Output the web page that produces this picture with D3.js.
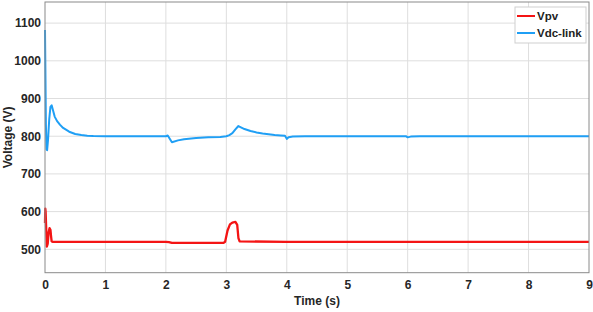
<!DOCTYPE html>
<html><head><meta charset="utf-8">
<script src="https://cdn.jsdelivr.net/npm/d3@7"></script>
<style>
body{margin:0;background:#fff;}
svg{display:block;font-family:"Liberation Sans",Arial,sans-serif;}
</style></head>
<body><svg id="c" width="593" height="312"></svg>
<script>
const xTicks = [0,1,2,3,4,5,6,7,8,9];
const yTicks = [500,600,700,800,900,1000,1100];
const seriesNames = ["Vpv","Vdc-link"];
const vpvT = [0,0.005,0.01,0.02,0.03,0.045,0.06,0.075,0.09,0.1,0.11,0.13,1.0,2.0,2.05,2.1,2.5,2.95,2.98,3.02,3.06,3.1,3.15,3.18,3.2,3.22,4,5,6,7,8,9];
const vpvV = [570,608,600,555,507,515,545,556,552,535,521,520,520,520,519,517,517,517,520,550,566,571,573,565,530,521,520,520,520,520,520,520];
const vdcT = [0,0.005,0.015,0.025,0.035,0.05,0.07,0.09,0.11,0.13,0.16,0.2,0.25,0.3,0.4,0.5,0.6,0.7,0.8,1.0,1.5,2.0,2.03,2.1,2.2,2.3,2.5,2.7,2.9,3.0,3.05,3.1,3.15,3.2,3.25,3.3,3.4,3.5,3.6,3.7,3.8,3.9,3.97,4.0,4.03,4.1,4.3,5.0,5.97,6.0,6.05,6.2,7.0,8.0,9.0];
const vdcV = [1082,1000,830,765,763,790,845,878,882,870,852,840,830,822,812,806,803,801.5,800.5,800,800,800,802,784,789,792,795,797,798,800,803,808,818,827,823,819,814,810,807,805,803,802,801,793,797,799,800,800,800,797,799,800,800,800,800];
const colors = ["#f41414","#1f9ff5"];

const svg = d3.select("#c");
const L=45, R=589, T=2, B=272.7;
const x = d3.scaleLinear().domain([0,9]).range([L,R]);
const y = d3.scaleLinear().domain([438,1156]).range([B,T]);

// grid
svg.append("g").selectAll("line").data(xTicks.slice(1,-1)).join("line")
  .attr("x1",d=>x(d)).attr("x2",d=>x(d)).attr("y1",T).attr("y2",B)
  .attr("stroke","#dedede").attr("stroke-width",1);
svg.append("g").selectAll("line").data(yTicks).join("line")
  .attr("x1",L).attr("x2",R).attr("y1",d=>y(d)).attr("y2",d=>y(d))
  .attr("stroke","#dedede").attr("stroke-width",1);

// axes (labels only)
const xa = svg.append("g").attr("transform",`translate(0,${B})`)
  .call(d3.axisBottom(x).tickValues(xTicks).tickFormat(d3.format("d")).tickSize(0).tickPadding(8));
const ya = svg.append("g").attr("transform",`translate(${L},0)`)
  .call(d3.axisLeft(y).tickValues(yTicks).tickFormat(d3.format("d")).tickSize(0).tickPadding(4));
[xa,ya].forEach(a=>{a.select(".domain").remove();
  a.selectAll("text").attr("font-size",12).attr("font-weight","bold").attr("fill","#262626").attr("font-family","Liberation Sans, Arial, sans-serif");});

// lines
const line = d3.line().x(d=>x(d[0])).y(d=>y(d[1]));
const vdcData = vdcT.map((t,i)=>[t,vdcV[i]]);
const vpvData = vpvT.map((t,i)=>[t,vpvV[i]]);
svg.append("path").datum(vdcData).attr("d",line).attr("fill","none")
  .attr("stroke",colors[1]).attr("stroke-width",2).attr("stroke-linejoin","round");
svg.append("path").datum(vpvData).attr("d",line).attr("fill","none")
  .attr("stroke",colors[0]).attr("stroke-width",2.3).attr("stroke-linejoin","round");

// box
svg.append("rect").attr("x",L).attr("y",T).attr("width",R-L).attr("height",B-T)
  .attr("fill","none").attr("stroke","#8a8a8a").attr("stroke-width",1);

// axis titles
svg.append("text").attr("x",x(4.5)).attr("y",305).attr("text-anchor","middle")
  .attr("font-size",12).attr("font-weight","bold").attr("fill","#262626").text("Time (s)");
svg.append("text").attr("transform",`translate(12,${y(797)}) rotate(-90)`).attr("text-anchor","middle")
  .attr("font-size",12).attr("font-weight","bold").attr("fill","#262626").text("Voltage (V)");

// legend
const lg = svg.append("g");
lg.append("rect").attr("x",515).attr("y",7).attr("width",71).attr("height",36)
  .attr("fill","#fff").attr("stroke","#cfcfcf").attr("stroke-width",1);
seriesNames.forEach((n,i)=>{
  const yy = 16 + i*17;
  lg.append("line").attr("x1",517).attr("x2",535).attr("y1",yy).attr("y2",yy)
    .attr("stroke",colors[i]).attr("stroke-width",2);
  lg.append("text").attr("x",537).attr("y",yy+4).attr("font-size",11.5).attr("font-weight","bold")
    .attr("fill","#222").text(n);
});
</script></body></html>
